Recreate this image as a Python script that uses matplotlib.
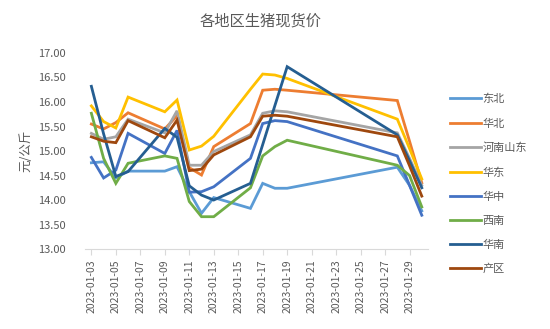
import matplotlib
matplotlib.use("Agg")
import matplotlib.pyplot as plt
import matplotlib.dates as mdates
import pandas as pd

plt.rcParams['font.family'] = ['Noto Sans CJK SC', 'DejaVu Sans']

dates = pd.to_datetime(['2023-01-03', '2023-01-04', '2023-01-05', '2023-01-06',
                        '2023-01-09', '2023-01-10', '2023-01-11', '2023-01-12',
                        '2023-01-13', '2023-01-16', '2023-01-17', '2023-01-18',
                        '2023-01-19', '2023-01-28', '2023-01-29', '2023-01-30'])

dongbei   = [14.76, 14.78, 14.45, 14.59, 14.59, 14.68, 14.17, 13.73, 14.05, 13.83, 14.34, 14.24, 14.24, 14.67, 14.30, 13.78]
huabei    = [15.55, 15.45, 15.58, 15.78, 15.45, 15.72, 14.66, 14.51, 15.09, 15.56, 16.24, 16.26, 16.24, 16.03, 15.20, 14.35]
henan_sd  = [15.36, 15.24, 15.29, 15.65, 15.37, 15.82, 14.71, 14.71, 14.99, 15.33, 15.77, 15.82, 15.80, 15.37, 14.85, 14.30]
huadong   = [15.92, 15.60, 15.47, 16.10, 15.80, 16.04, 15.02, 15.10, 15.30, 16.26, 16.57, 16.55, 16.48, 15.65, 15.05, 14.43]
huazhong  = [14.87, 14.45, 14.61, 15.36, 14.95, 15.42, 14.16, 14.17, 14.27, 14.85, 15.56, 15.62, 15.60, 14.90, 14.30, 13.69]
xinan     = [15.77, 14.85, 14.34, 14.75, 14.90, 14.85, 13.97, 13.66, 13.66, 14.25, 14.90, 15.09, 15.22, 14.71, 14.50, 13.86]
huanan    = [16.32, 15.35, 14.48, 14.58, 15.46, 15.28, 14.29, 14.10, 14.00, 14.34, 15.13, 15.93, 16.72, 15.33, 14.80, 14.25]
chanqu    = [15.29, 15.20, 15.17, 15.62, 15.27, 15.63, 14.60, 14.63, 14.92, 15.29, 15.71, 15.73, 15.71, 15.29, 14.70, 14.08]

names = ['东北', '华北', '河南山东', '华东', '华中', '西南', '华南', '产区']
series = [dongbei, huabei, henan_sd, huadong, huazhong, xinan, huanan, chanqu]
colors = ['#5B9BD5', '#ED7D31', '#A5A5A5', '#FFC000', '#4472C4', '#70AD47', '#255E91', '#9E480E']

fig = plt.figure(figsize=(5.5, 3.29), dpi=100)
ax = fig.add_axes([0.155, 0.243, 0.623, 0.596])

for vals, name, c in zip(series, names, colors):
    ax.plot(dates, vals, color=c, lw=2.0, label=name, solid_joinstyle='miter')

ax.set_ylim(13, 17)
ax.set_yticks([13 + 0.5 * i for i in range(9)])
ax.yaxis.set_major_formatter(plt.FormatStrFormatter('%.2f'))
ax.set_xlim(pd.Timestamp('2023-01-02 12:00'), pd.Timestamp('2023-01-30 12:00'))
ax.xaxis.set_major_locator(mdates.DayLocator(bymonthday=range(3, 30, 2)))
ax.xaxis.set_major_formatter(mdates.DateFormatter('%Y-%m-%d'))
plt.setp(ax.get_xticklabels(), rotation=90)

for s in ['top', 'right', 'left']:
    ax.spines[s].set_visible(False)
ax.spines['bottom'].set_color('#D9D9D9')
ax.tick_params(axis='y', length=0, labelsize=8, colors='#595959', pad=14)
ax.tick_params(axis='x', length=4, color='#D9D9D9', labelsize=7.5, labelcolor='#595959')

ax.set_ylabel('元/公斤', fontsize=9, color='#595959', labelpad=4)
fig.text(0.473, 0.935, '各地区生猪现货价', ha='center', va='center', fontsize=11, color='#595959')

fig.legend(loc='upper left', bbox_to_anchor=(0.8, 0.745), frameon=False,
           fontsize=8, labelcolor='#595959', handlelength=2.8, handletextpad=0.1,
           labelspacing=1.26)

fig.savefig('out.png', dpi=100)
